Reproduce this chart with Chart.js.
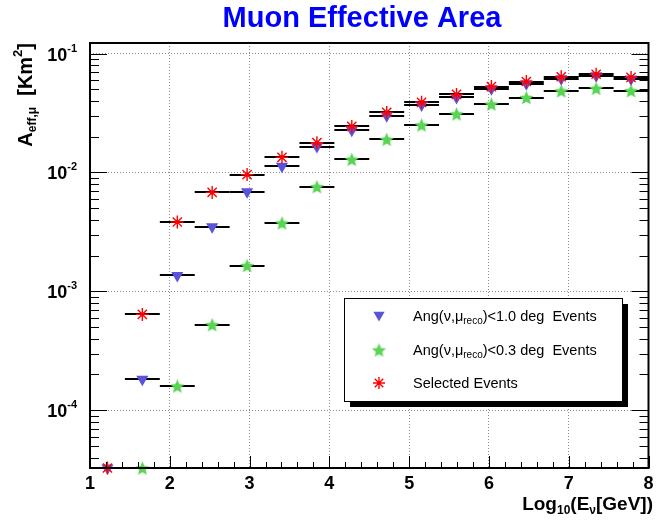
<!DOCTYPE html>
<html>
<head>
<meta charset="utf-8">
<title>Muon Effective Area</title>
<script src="https://cdn.jsdelivr.net/npm/chart.js@4.4.0/dist/chart.umd.min.js"></script>
<style>
  html, body { margin: 0; padding: 0; background: #fff; }
  #wrap { width: 657px; height: 520px; }
</style>
</head>
<body>
<div id="wrap"><canvas id="effArea" width="657" height="520"></canvas></div>
<script>
// ==========================================
// DATA
// ==========================================

// 16 bins in log10(E/GeV) between 1 and 8
const binCenters = [1.219, 1.656, 2.094, 2.531, 2.969, 3.406, 3.844, 4.281,
                    4.719, 5.156, 5.594, 6.031, 6.469, 6.906, 7.344, 7.781];
const binHalfWidth = 0.21875;

// axis range, empty bins are drawn on the lower edge
const Y_MIN = 3.27e-5;
const Y_MAX = 0.1227;

const selectedEvents = [Y_MIN, 6.4e-4, 3.83e-3, 6.8e-3, 9.6e-3, 0.0134, 0.0178, 0.0244,
                        0.0320, 0.0389, 0.0453, 0.0528, 0.0582, 0.0638, 0.0670, 0.0630];
const ang10Events = [Y_MIN, 1.82e-4, 1.36e-3, 3.5e-3, 6.9e-3, 0.0113, 0.0165, 0.0226,
                     0.0300, 0.0370, 0.0428, 0.0505, 0.0558, 0.0615, 0.0652, 0.0612];
const ang03Events = [null, Y_MIN, 1.6e-4, 5.24e-4, 1.65e-3, 3.76e-3, 7.6e-3, 0.0129,
                     0.0190, 0.0251, 0.0311, 0.0376, 0.0427, 0.0485, 0.0510, 0.0487];

const xTickValues = [1, 2, 3, 4, 5, 6, 7, 8];
const xTickLabels = ["1", "2", "3", "4", "5", "6", "7", "8"];
const yDecades = [1e-4, 1e-3, 1e-2, 1e-1];
const yDecadeExps = ["-4", "-3", "-2", "-1"];

// ==========================================
// HELPERS
// ==========================================

const FONT = '"Liberation Sans", Arial, Helvetica, sans-serif';
const BLUE = "rgb(89,84,216)";
const GREEN = "rgb(89,212,84)";
const RED = "rgb(255,0,0)";

const toPoints = (arr) => binCenters.map((x, i) => ({ x: x, y: arr[i] }));

const setFont = (ctx, size, bold) => {
  ctx.font = (bold ? "bold " : "") + size + "px " + FONT;
};

// text with sub / superscripts: parts = [{t, size, dy}]
function richWidth(ctx, parts, bold) {
  let w = 0;
  parts.forEach((p) => {
    setFont(ctx, p.size, bold);
    w += ctx.measureText(p.t).width;
  });
  return w;
}

function drawRich(ctx, parts, x, y, bold) {
  ctx.textAlign = "left";
  ctx.textBaseline = "alphabetic";
  parts.forEach((p) => {
    setFont(ctx, p.size, bold);
    ctx.fillText(p.t, x, y + (p.dy || 0));
    x += ctx.measureText(p.t).width;
  });
}

// five-pointed star used as a point style
function makeStar(r, color) {
  const c = document.createElement("canvas");
  const s = Math.ceil(r * 2 + 2);
  c.width = s;
  c.height = s;
  const g = c.getContext("2d");
  g.fillStyle = color;
  g.beginPath();
  for (let k = 0; k < 10; k++) {
    const rad = (k % 2 === 0) ? r : r * 0.45;
    const a = -Math.PI / 2 + k * Math.PI / 5;
    const px = s / 2 + rad * Math.cos(a);
    const py = s / 2 + 0.8 + rad * Math.sin(a);
    if (k === 0) g.moveTo(px, py); else g.lineTo(px, py);
  }
  g.closePath();
  g.fill();
  return c;
}
const greenStar = makeStar(7.5, GREEN);

function drawTriangleDown(ctx, x, y, r) {
  ctx.fillStyle = BLUE;
  ctx.beginPath();
  ctx.moveTo(x, y + r);
  ctx.lineTo(x - r * Math.sin(Math.PI / 3), y - r / 2);
  ctx.lineTo(x + r * Math.sin(Math.PI / 3), y - r / 2);
  ctx.closePath();
  ctx.fill();
}

function drawAsterisk(ctx, x, y, r) {
  ctx.strokeStyle = RED;
  ctx.lineWidth = 1.4;
  ctx.beginPath();
  for (let k = 0; k < 4; k++) {
    const a = k * Math.PI / 4;
    ctx.moveTo(x - r * Math.cos(a), y - r * Math.sin(a));
    ctx.lineTo(x + r * Math.cos(a), y + r * Math.sin(a));
  }
  ctx.stroke();
}

// ==========================================
// PLUGIN: ROOT-like frame, ticks, labels, legend
// ==========================================

const rootStyle = {
  id: "rootStyle",
  beforeDraw(chart) {
    const ctx = chart.ctx;
    ctx.save();
    ctx.fillStyle = "#fff";
    ctx.fillRect(0, 0, chart.width, chart.height);
    ctx.restore();
  },
  // horizontal error bars under the markers
  beforeDatasetsDraw(chart) {
    const ctx = chart.ctx;
    const xs = chart.scales.x;
    const ys = chart.scales.y;
    ctx.save();
    ctx.strokeStyle = "#000";
    ctx.lineWidth = 2;
    chart.data.datasets.forEach((ds) => {
      ds.data.forEach((p) => {
        if (p.y == null) return;
        const yy = Math.round(ys.getPixelForValue(p.y));
        ctx.beginPath();
        ctx.moveTo(xs.getPixelForValue(p.x - binHalfWidth), yy);
        ctx.lineTo(xs.getPixelForValue(p.x + binHalfWidth), yy);
        ctx.stroke();
      });
    });
    ctx.restore();
  },
  // small red dot in the middle of each asterisk
  afterDatasetsDraw(chart) {
    const ctx = chart.ctx;
    ctx.save();
    ctx.fillStyle = RED;
    chart.getDatasetMeta(0).data.forEach((pt) => {
      ctx.beginPath();
      ctx.arc(pt.x, pt.y, 2, 0, Math.PI * 2);
      ctx.fill();
    });
    ctx.restore();
  },
  afterDraw(chart) {
    const ctx = chart.ctx;
    const a = chart.chartArea;
    const xs = chart.scales.x;
    const ys = chart.scales.y;
    ctx.save();

    // y ticks, left and right
    ctx.strokeStyle = "#000";
    ctx.lineWidth = 1;
    ctx.beginPath();
    for (let e = -5; e <= -1; e++) {
      for (let m = 1; m <= 9; m++) {
        const v = m * Math.pow(10, e);
        if (v < Y_MIN || v > Y_MAX) continue;
        const py = Math.round(ys.getPixelForValue(v)) + 0.5;
        const len = m === 1 ? 17 : 9;
        ctx.moveTo(a.left, py);
        ctx.lineTo(a.left + len, py);
        ctx.moveTo(a.right, py);
        ctx.lineTo(a.right - len, py);
      }
    }
    // x ticks on the bottom axis
    for (let k = 0; k <= 35; k++) {
      const v = 1 + k * 0.2;
      const px = Math.round(xs.getPixelForValue(v)) + 0.5;
      const len = k % 5 === 0 ? 12 : 6;
      ctx.moveTo(px, a.bottom);
      ctx.lineTo(px, a.bottom - len);
    }
    ctx.stroke();

    // frame
    ctx.lineWidth = 2;
    ctx.strokeRect(a.left, a.top, a.right - a.left, a.bottom - a.top);

    // tick labels
    ctx.fillStyle = "#000";
    ctx.textAlign = "center";
    ctx.textBaseline = "alphabetic";
    setFont(ctx, 18, true);
    xTickValues.forEach((v, i) => {
      ctx.fillText(xTickLabels[i], xs.getPixelForValue(v), a.bottom + 21);
    });
    yDecades.forEach((v, i) => {
      const py = ys.getPixelForValue(v);
      const parts = [{ t: "10", size: 18 }, { t: yDecadeExps[i], size: 11, dy: -9 }];
      const w = richWidth(ctx, parts, true);
      drawRich(ctx, parts, 77 - w, py + 7, true);
    });

    // axis titles
    const xTitle = [{ t: "Log", size: 19 }, { t: "10", size: 12, dy: 4 }, { t: "(E", size: 19 },
                    { t: "ν", size: 12, dy: 4 }, { t: "[GeV])", size: 19 }];
    drawRich(ctx, xTitle, 653 - richWidth(ctx, xTitle, true), 510, true);

    const yTitle = [{ t: "A", size: 20 }, { t: "eff,μ", size: 12, dy: 4 }, { t: "  [Km", size: 20 },
                    { t: "2", size: 13, dy: -10 }, { t: "]", size: 20 }];
    ctx.save();
    ctx.translate(32, a.top);
    ctx.rotate(-Math.PI / 2);
    drawRich(ctx, yTitle, -richWidth(ctx, yTitle, true), 0, true);
    ctx.restore();

    // title
    ctx.fillStyle = "rgb(0,0,255)";
    ctx.textAlign = "center";
    setFont(ctx, 29, true);
    ctx.fillText("Muon Effective Area", 362, 27);

    // legend with drop shadow
    const lx = 344, ly = 298, lw = 278, lh = 103;
    ctx.fillStyle = "#000";
    ctx.fillRect(lx + 6, ly + 6, lw, lh);
    ctx.fillStyle = "#fff";
    ctx.fillRect(lx, ly, lw, lh);
    ctx.strokeStyle = "#000";
    ctx.lineWidth = 1;
    ctx.strokeRect(lx + 0.5, ly + 0.5, lw, lh);

    const rows = [316, 350, 383];
    drawTriangleDown(ctx, 379, rows[0] - 1, 6.5);
    ctx.drawImage(greenStar, 379 - greenStar.width / 2, rows[1] - greenStar.height / 2);
    drawAsterisk(ctx, 379, rows[2], 6);

    ctx.fillStyle = "#000";
    const angRow = (deg) => [{ t: "Ang(ν,μ", size: 14.5 }, { t: "reco", size: 10, dy: 3 },
                             { t: ")<" + deg + " deg  Events", size: 14.5 }];
    drawRich(ctx, angRow("1.0"), 413, rows[0] + 5, false);
    drawRich(ctx, angRow("0.3"), 413, rows[1] + 5, false);
    drawRich(ctx, [{ t: "Selected Events", size: 14.5 }], 413, rows[2] + 5, false);

    ctx.restore();
  },
};

// ==========================================
// CHART
// ==========================================

const ctx = document.getElementById("effArea").getContext("2d");

const effChart = new Chart(ctx, {
  type: "scatter",
  data: {
    datasets: [
      {
        label: "Selected Events",
        data: toPoints(selectedEvents),
        pointStyle: "star",
        pointRadius: 6.5,
        pointHoverRadius: 6.5,
        borderColor: RED,
        backgroundColor: RED,
        pointBorderWidth: 1.4,
        clip: false,
        order: 0,
      },
      {
        label: "Ang(ν,μreco)<1.0 deg  Events",
        data: toPoints(ang10Events),
        pointStyle: "triangle",
        rotation: 180,
        pointRadius: 7,
        pointHoverRadius: 7,
        backgroundColor: BLUE,
        borderColor: BLUE,
        pointBorderWidth: 0,
        clip: false,
        order: 1,
      },
      {
        label: "Ang(ν,μreco)<0.3 deg  Events",
        data: toPoints(ang03Events),
        pointStyle: greenStar,
        pointRadius: 7.5,
        backgroundColor: GREEN,
        borderColor: GREEN,
        clip: false,
        order: 2,
      },
    ],
  },
  options: {
    responsive: false,
    animation: false,
    events: [],
    layout: { padding: { left: 90, top: 43, right: 1, bottom: 52 } },
    plugins: {
      legend: { display: false },
      tooltip: { enabled: false },
    },
    scales: {
      x: {
        type: "linear",
        min: 1,
        max: 8,
        ticks: { display: false, stepSize: 1 },
        grid: { color: "#8a8a8a", lineWidth: 1, drawTicks: false },
        border: { display: false, dash: [1, 2] },
      },
      y: {
        type: "logarithmic",
        min: Y_MIN,
        max: Y_MAX,
        afterBuildTicks: (scale) => {
          scale.ticks = yDecades.map((v) => ({ value: v }));
        },
        ticks: { display: false },
        grid: { color: "#8a8a8a", lineWidth: 1, drawTicks: false },
        border: { display: false, dash: [1, 2] },
      },
    },
  },
  plugins: [rootStyle],
});
</script>
</body>
</html>
